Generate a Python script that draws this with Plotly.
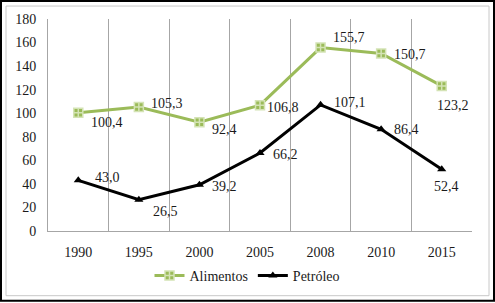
import plotly.graph_objects as go

years = ["1990", "1995", "2000", "2005", "2008", "2010", "2015"]
alimentos = [100.4, 105.3, 92.4, 106.8, 155.7, 150.7, 123.2]
petroleo = [43.0, 26.5, 39.2, 66.2, 107.1, 86.4, 52.4]
y_ticks = [0, 20, 40, 60, 80, 100, 120, 140, 160, 180]

# label offsets (px) relative to each point
ali_off = [(29, 10), (28, -3), (25, 7), (23, 2), (28, -10), (29, 1), (11, 20)]
pet_off = [(29, -3), (27, 12), (25, 2), (25, 1), (29, -2), (25, 0), (5, 17)]

GREEN = "#9BBB59"
FONT = "Liberation Serif"
TXT = "#1a1a1a"

idx = list(range(len(years)))
bounds = [i + 0.5 for i in idx]

fig = go.Figure()
fig.add_trace(go.Scatter(
    x=idx, y=alimentos, name="Alimentos", mode="lines+markers",
    line=dict(color=GREEN, width=3),
    marker=dict(symbol="square-cross", size=9, color=GREEN,
                line=dict(color="#D4E3B5", width=1.5)),
))
fig.add_trace(go.Scatter(
    x=idx, y=petroleo, name="Petróleo", mode="lines+markers",
    line=dict(color="black", width=3),
    marker=dict(symbol="triangle-up", size=8, color="black"),
))

def fmt(v):
    return f"{v:.1f}".replace(".", ",")

for series, offs in ((alimentos, ali_off), (petroleo, pet_off)):
    for i, v, (dx, dy) in zip(idx, series, offs):
        fig.add_annotation(x=i, y=v, text=fmt(v), showarrow=False,
                           xref="x", yref="y",
                           xshift=dx, yshift=-dy,
                           font=dict(family=FONT, size=14, color=TXT))

W, H = 495, 303
L, R, T, B = 48, 23, 19, 71
pw, ph = W - L - R, H - T - B

fig.update_layout(
    width=W, height=H,
    margin=dict(l=L, r=R, t=T, b=B),
    paper_bgcolor="white", plot_bgcolor="white",
    font=dict(family=FONT, size=14, color=TXT),
    showlegend=True,
    legend=dict(orientation="h", x=0.5 - 13 / pw, xanchor="center",
                y=(232 - 276) / ph, yanchor="middle",
                font=dict(family=FONT, size=14, color=TXT), itemwidth=30,
                tracegroupgap=0),
    xaxis=dict(type="linear", range=[-0.5, 6.5],
               tickvals=idx, ticktext=years, showgrid=False,
               minor=dict(tickvals=bounds, showgrid=True,
                          gridcolor="#A6A6A6", gridwidth=1, ticks=""),
               ticks="", showline=True, linecolor="#A6A6A6", linewidth=1,
               zeroline=False, ticklabelstandoff=8,
               tickfont=dict(family=FONT, size=14, color=TXT)),
    yaxis=dict(range=[0, 180], tickvals=y_ticks, showgrid=False,
               showline=True, linecolor="#A6A6A6", linewidth=1,
               ticks="", zeroline=False, ticklabelstandoff=8,
               tickfont=dict(family=FONT, size=14, color=TXT)),
    shapes=[
        dict(type="rect", xref="paper", yref="paper",
             x0=-(L - 1) / pw, x1=1 + (R - 1) / pw,
             y0=-(B - 1) / ph, y1=1 + (T - 1) / ph,
             line=dict(color="black", width=2)),
        dict(type="rect", xref="paper", yref="paper",
             x0=-(L - 6) / pw, x1=1 + (R - 6) / pw,
             y0=-(B - 6) / ph, y1=1 + (T - 6) / ph,
             line=dict(color="#C8C8C8", width=1)),
    ],
)

fig.write_html("out.html", config={"displayModeBar": False},
               post_script="document.body.style.margin='0';document.body.style.overflow='hidden';")
